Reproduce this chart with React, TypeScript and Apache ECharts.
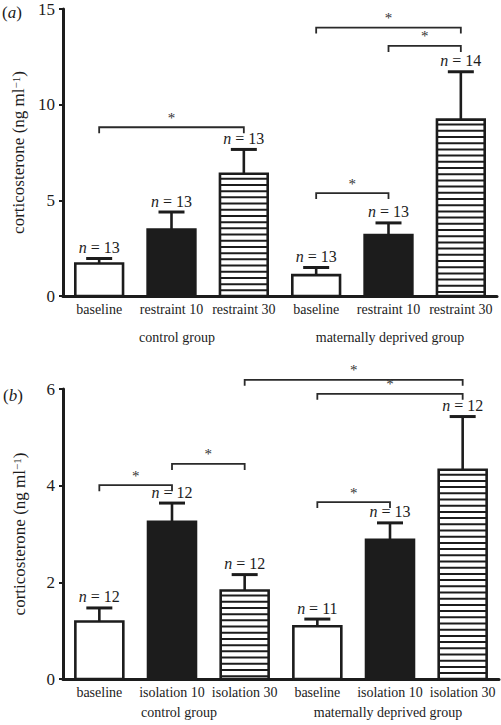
import React, { useEffect, useRef } from "react";
import * as echarts from "echarts";

const categoriesA = ["baseline", "restraint 10", "restraint 30", "baseline", "restraint 10", "restraint 30"];
const categoriesB = ["baseline", "isolation 10", "isolation 30", "baseline", "isolation 10", "isolation 30"];
const groupLabels = ["control group", "maternally deprived group"];
const fills = ["open", "solid", "striped", "open", "solid", "striped"];

const meansA = [1.7, 3.47, 6.39, 1.09, 3.18, 9.22];
const errTopA = [1.96, 4.39, 7.66, 1.49, 3.82, 11.72];
const nA = [13, 13, 13, 13, 13, 14];

const meansB = [1.19, 3.25, 1.83, 1.09, 2.88, 4.33];
const errTopB = [1.47, 3.64, 2.16, 1.24, 3.23, 5.43];
const nB = [12, 12, 12, 11, 13, 12];

// [from category, to category, height]
const bracketsA = [
  [0, 2, 8.82],
  [3, 5, 14.03],
  [4, 5, 13.07],
  [3, 4, 5.38],
];
const bracketsB = [
  [0, 1, 4.01],
  [1, 2, 4.45],
  [2, 5, 6.19],
  [3, 5, 5.9],
  [3, 4, 3.66],
];

const yAxisA = { min: 0, max: 15, interval: 5 };
const yAxisB = { min: 0, max: 6, interval: 2 };

const INK = "#1c1c1c";
const FONT = "'Liberation Serif', 'DejaVu Serif', serif";

function barRender(params: any, api: any) {
  const i = params.dataIndex;
  const x = api.value(0);
  const base = api.coord([x, 0]);
  const top = api.coord([x, api.value(1)]);
  const et = api.coord([x, api.value(2)]);
  const n = api.value(3);
  const band = api.size([1, 0])[0];
  const w = band * 0.66;
  const left = base[0] - w / 2;
  const h = base[1] - top[1];
  const kind = fills[i];
  const children: any[] = [];
  children.push({
    type: "rect",
    shape: { x: left, y: top[1], width: w, height: h },
    style: { fill: kind === "solid" ? INK : "#fff" },
  });
  if (kind === "striped") {
    for (let y = top[1] + 5; y < base[1] - 1; y += 6.2) {
      children.push({
        type: "line",
        shape: { x1: left, y1: y, x2: left + w, y2: y },
        style: { stroke: INK, lineWidth: 2 },
      });
    }
  }
  children.push({
    type: "rect",
    shape: { x: left, y: top[1], width: w, height: h },
    style: { fill: "none", stroke: INK, lineWidth: 2.6 },
  });
  children.push({
    type: "line",
    shape: { x1: base[0], y1: top[1], x2: base[0], y2: et[1] },
    style: { stroke: INK, lineWidth: 2.6 },
  });
  children.push({
    type: "line",
    shape: { x1: base[0] - 13, y1: et[1], x2: base[0] + 13, y2: et[1] },
    style: { stroke: INK, lineWidth: 3 },
  });
  children.push({
    type: "text",
    x: base[0],
    y: et[1] - 3,
    style: {
      text: "{i|n} = " + n,
      fontSize: 16,
      fontFamily: FONT,
      fill: INK,
      align: "center",
      verticalAlign: "bottom",
      rich: { i: { fontStyle: "italic", fontSize: 16, fontFamily: FONT, fill: INK } },
    },
  });
  return { type: "group", children };
}

function bracketRender(params: any, api: any) {
  const a = api.coord([api.value(0), api.value(2)]);
  const b = api.coord([api.value(1), api.value(2)]);
  const drop = 6;
  return {
    type: "group",
    children: [
      {
        type: "polyline",
        shape: {
          points: [
            [a[0], a[1] + drop],
            [a[0], a[1]],
            [b[0], b[1]],
            [b[0], b[1] + drop],
          ],
        },
        style: { stroke: "#2a2a2a", lineWidth: 1.8, fill: "none" },
      },
      {
        type: "text",
        x: (a[0] + b[0]) / 2,
        y: a[1] - 2,
        style: {
          text: "*",
          fontSize: 15,
          fontFamily: FONT,
          fill: "#333",
          align: "center",
          verticalAlign: "bottom",
        },
      },
    ],
  };
}

function yName() {
  return "{a|corticosterone (ng ml}{s|−1}{a|)}";
}

export default function App() {
  const ref = useRef<HTMLDivElement>(null);
  useEffect(() => {
    const chart = echarts.init(ref.current!, undefined, { renderer: "svg" });
    const xAxisCommon = {
      type: "category" as const,
      axisLine: { lineStyle: { color: INK, width: 3 } },
      axisTick: { show: false },
      axisLabel: { interval: 0, fontSize: 14, fontFamily: FONT, color: INK, margin: 6 },
      splitLine: { show: false },
    };
    const yAxisCommon = {
      type: "value" as const,
      axisLine: { show: true, lineStyle: { color: INK, width: 3 } },
      axisTick: { show: true, inside: false, length: 4, lineStyle: { color: INK, width: 2 } },
      axisLabel: { fontSize: 17, lineHeight: 14, fontFamily: FONT, color: INK, margin: 8 },
      splitLine: { show: false },
      name: yName(),
      nameLocation: "middle" as const,
      nameGap: 35,
      nameTextStyle: {
        fontSize: 17,
        fontFamily: FONT,
        color: INK,
        rich: {
          a: { fontSize: 17, fontFamily: FONT, color: INK },
          s: { fontSize: 11, fontFamily: FONT, color: INK, verticalAlign: "top", lineHeight: 17 },
        },
      },
    };
    const groupText = (x: number, y: number, t: string) => ({
      type: "text",
      x,
      y,
      style: { text: t, fontSize: 14, fontFamily: FONT, fill: INK, align: "center", verticalAlign: "middle" },
    });
    const option: any = {
      animation: false,
      textStyle: { fontFamily: FONT },
      grid: [
        { left: 63, top: 9, width: 434, height: 287, containLabel: false, outerBoundsMode: "none" },
        { left: 63, top: 389, width: 436, height: 290, containLabel: false, outerBoundsMode: "none" },
      ],
      xAxis: [
        { ...xAxisCommon, gridIndex: 0, data: categoriesA },
        { ...xAxisCommon, gridIndex: 1, data: categoriesB },
      ],
      yAxis: [
        { ...yAxisCommon, gridIndex: 0, ...yAxisA },
        { ...yAxisCommon, gridIndex: 1, ...yAxisB },
      ],
      graphic: [
        {
          type: "text",
          x: 2,
          y: 12,
          style: { text: "({i|a})", fontSize: 17, fontFamily: FONT, fill: INK, verticalAlign: "middle", rich: { i: { fontStyle: "italic", fontSize: 17, fontFamily: FONT, fill: INK } } },
        },
        {
          type: "text",
          x: 3,
          y: 395,
          style: { text: "({i|b})", fontSize: 17, fontFamily: FONT, fill: INK, verticalAlign: "middle", rich: { i: { fontStyle: "italic", fontSize: 17, fontFamily: FONT, fill: INK } } },
        },
        groupText(177, 337, groupLabels[0]),
        groupText(390, 337, groupLabels[1]),
        groupText(179, 712, groupLabels[0]),
        groupText(388, 712, groupLabels[1]),
      ],
      series: [
        {
          type: "custom",
          xAxisIndex: 0,
          yAxisIndex: 0,
          clip: false,
          renderItem: barRender,
          encode: { x: 0, y: [1, 2] },
          data: meansA.map((m, i) => [i, m, errTopA[i], nA[i]]),
        },
        {
          type: "custom",
          xAxisIndex: 1,
          yAxisIndex: 1,
          clip: false,
          renderItem: barRender,
          encode: { x: 0, y: [1, 2] },
          data: meansB.map((m, i) => [i, m, errTopB[i], nB[i]]),
        },
        {
          type: "custom",
          xAxisIndex: 0,
          yAxisIndex: 0,
          clip: false,
          renderItem: bracketRender,
          encode: { x: [0, 1], y: 2 },
          data: bracketsA,
        },
        {
          type: "custom",
          xAxisIndex: 1,
          yAxisIndex: 1,
          clip: false,
          renderItem: bracketRender,
          encode: { x: [0, 1], y: 2 },
          data: bracketsB,
        },
      ],
    };
    chart.setOption(option);
    return () => chart.dispose();
  }, []);
  return (
    <div
      ref={ref}
      style={{ position: "fixed", left: 0, top: 0, width: 501, height: 725, background: "#fff" }}
    />
  );
}
